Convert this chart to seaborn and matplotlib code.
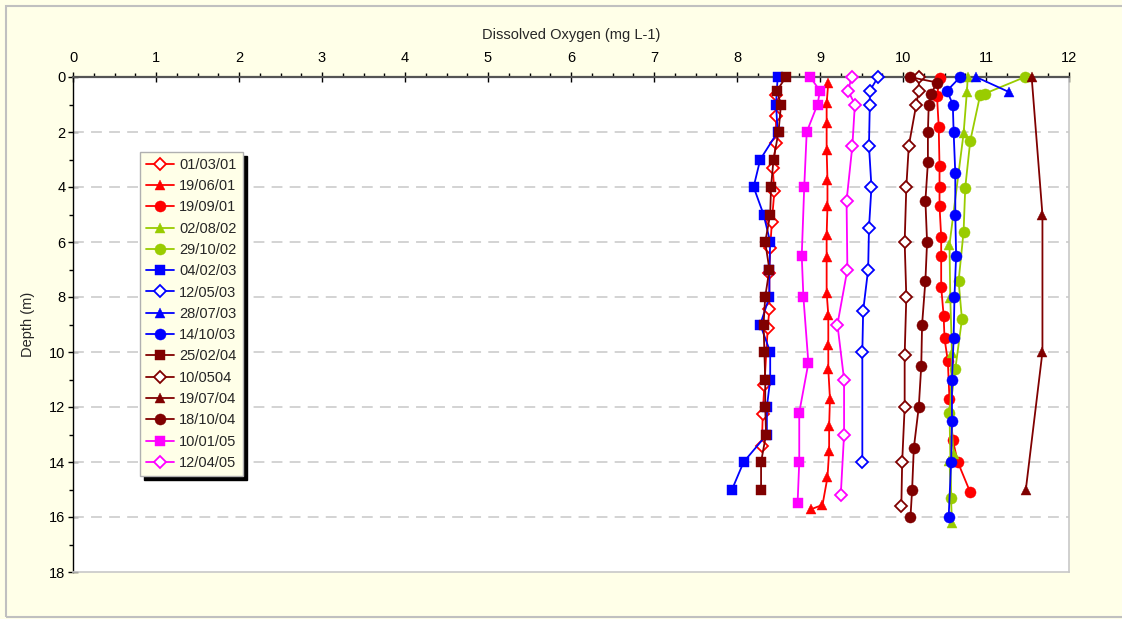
import numpy as np
import pandas as pd
import matplotlib

matplotlib.use("Agg")

import matplotlib.pyplot as plt
import seaborn as sns
from matplotlib.ticker import MultipleLocator
from matplotlib.patches import Rectangle

# ============================================================
# DATA  (depth in m, dissolved oxygen in mg L-1)
# ============================================================

d_010301 = [0.65, 1.42, 2.4, 3.3, 4.15, 5.27, 6.23, 7.14, 8.44, 9.14, 11.2, 12.25, 13.4]
o_010301 = [8.47, 8.47, 8.47, 8.43, 8.45, 8.42, 8.40, 8.39, 8.39, 8.37, 8.33, 8.31, 8.30]

d_190601 = [0.2, 0.96, 1.68, 2.65, 3.75, 4.7, 5.75, 6.53, 7.84, 8.65, 9.75, 10.63,
            11.7, 12.7, 13.6, 14.56, 15.56, 15.72]
o_190601 = [9.10, 9.08, 9.08, 9.08, 9.09, 9.09, 9.08, 9.08, 9.08, 9.10, 9.10, 9.10,
            9.12, 9.11, 9.11, 9.09, 9.03, 8.89]

d_190901 = [0.05, 0.7, 1.8, 3.24, 4.0, 4.7, 5.8, 6.5, 7.63, 8.7, 9.5, 10.33, 11.72,
            13.2, 14.0, 15.1]
o_190901 = [10.44, 10.41, 10.43, 10.44, 10.44, 10.44, 10.46, 10.46, 10.46, 10.49,
            10.50, 10.54, 10.56, 10.60, 10.66, 10.81]

d_020802 = [0.0, 0.53, 2.05, 6.1, 8.05, 10.05, 12.1, 13.7, 13.95, 16.2]
o_020802 = [10.78, 10.77, 10.73, 10.56, 10.57, 10.59, 10.57, 10.61, 10.56, 10.59]

d_291002 = [0.0, 0.6, 0.65, 2.33, 4.02, 5.62, 7.42, 8.81, 10.63, 12.2, 15.3]
o_291002 = [11.47, 10.99, 10.93, 10.81, 10.75, 10.73, 10.67, 10.71, 10.63, 10.56, 10.58]

d_040203 = [0, 1, 2, 3, 4, 5, 6, 7, 8, 9, 10, 11, 12, 13, 14, 15]
o_040203 = [8.49, 8.47, 8.49, 8.28, 8.20, 8.32, 8.40, 8.39, 8.39, 8.28, 8.40, 8.40,
            8.36, 8.36, 8.08, 7.94]

d_120503 = [0, 0.5, 1, 2.5, 4, 5.5, 7, 8.5, 10, 14]
o_120503 = [9.70, 9.60, 9.60, 9.59, 9.62, 9.59, 9.58, 9.52, 9.51, 9.51]

d_280703 = [0, 0.55]
o_280703 = [10.88, 11.28]

d_141003 = [0, 0.5, 1, 2, 3.5, 5, 6.5, 8, 9.5, 11, 12.5, 14, 16]
o_141003 = [10.69, 10.53, 10.60, 10.61, 10.63, 10.63, 10.64, 10.62, 10.61, 10.59,
            10.59, 10.58, 10.55]

d_250204 = [0, 0.5, 1, 2, 3, 4, 5, 6, 7, 8, 9, 10, 11, 12, 13, 14, 15]
o_250204 = [8.59, 8.48, 8.53, 8.50, 8.44, 8.41, 8.40, 8.34, 8.39, 8.34, 8.32, 8.33,
            8.34, 8.34, 8.35, 8.29, 8.29]

d_100504 = [0, 0.5, 1, 2.5, 4, 6, 8, 10.1, 12, 14, 15.6]
o_100504 = [10.19, 10.19, 10.16, 10.07, 10.04, 10.02, 10.04, 10.02, 10.02, 9.99, 9.98]

d_190704 = [0, 5, 10, 15]
o_190704 = [11.55, 11.68, 11.68, 11.48]

d_181004 = [0, 0.2, 0.6, 1, 2, 3.1, 4.5, 6, 7.4, 9, 10.5, 12, 13.5, 15, 16]
o_181004 = [10.08, 10.41, 10.34, 10.31, 10.30, 10.30, 10.27, 10.29, 10.27, 10.23,
            10.22, 10.19, 10.13, 10.11, 10.09]

d_100105 = [0, 0.5, 1, 2, 4, 6.5, 8, 10.4, 12.2, 14, 15.5]
o_100105 = [8.88, 9.00, 8.97, 8.84, 8.81, 8.78, 8.80, 8.86, 8.75, 8.75, 8.73]

d_120405 = [0, 0.5, 1, 2.5, 4.5, 7, 9, 11, 13, 15.2]
o_120405 = [9.38, 9.34, 9.42, 9.39, 9.32, 9.33, 9.21, 9.29, 9.29, 9.25]

# (label, oxygen, depth, colour, marker, open marker)
SERIES = [
    ("01/03/01", o_010301, d_010301, "#FF0000", "D", True),
    ("19/06/01", o_190601, d_190601, "#FF0000", "^", False),
    ("19/09/01", o_190901, d_190901, "#FF0000", "o", False),
    ("02/08/02", o_020802, d_020802, "#99CC00", "^", False),
    ("29/10/02", o_291002, d_291002, "#99CC00", "o", False),
    ("04/02/03", o_040203, d_040203, "#0000FF", "s", False),
    ("12/05/03", o_120503, d_120503, "#0000FF", "D", True),
    ("28/07/03", o_280703, d_280703, "#0000FF", "^", False),
    ("14/10/03", o_141003, d_141003, "#0000FF", "o", False),
    ("25/02/04", o_250204, d_250204, "#800000", "s", False),
    ("10/0504",  o_100504, d_100504, "#800000", "D", True),
    ("19/07/04", o_190704, d_190704, "#800000", "^", False),
    ("18/10/04", o_181004, d_181004, "#800000", "o", False),
    ("10/01/05", o_100105, d_100105, "#FF00FF", "s", False),
    ("12/04/05", o_120405, d_120405, "#FF00FF", "D", True),
]

MARKER_SIZE = {"D": 6.5, "s": 7.0, "^": 7.5, "o": 8.0}

# ============================================================
# PLOT
# ============================================================

sns.set_style("white")
plt.rcParams["font.family"] = ["Liberation Sans", "DejaVu Sans"]

BG = "#FFFFE8"
W, H = 1122, 619
fig = plt.figure(figsize=(W / 100, H / 100), dpi=100, facecolor=BG)
fig.patches.append(Rectangle((6 / W, 2 / H), 1.2, 1 - 7.5 / H,
                             transform=fig.transFigure, fill=False,
                             edgecolor="#C0C0C0", linewidth=1.5, zorder=0))

ax = fig.add_axes([73 / W, 1 - 572 / H, (1069 - 73) / W, (572 - 77) / H])
ax.set_facecolor("white")

for label, ox, dep, col, mk, hollow in SERIES:
    df = pd.DataFrame({"oxygen": ox, "depth": dep})
    sns.lineplot(data=df, x="oxygen", y="depth", sort=False, estimator=None,
                 ax=ax, color=col, linewidth=1.3, label=label,
                 marker=mk, markersize=MARKER_SIZE[mk],
                 markerfacecolor="white" if hollow else col,
                 markeredgecolor=col,
                 markeredgewidth=1.3 if hollow else 0.3,
                 clip_on=False, zorder=3)

ax.set_xlim(0, 12)
ax.set_ylim(18, 0)
ax.xaxis.tick_top()
ax.xaxis.set_label_position("top")
ax.xaxis.set_major_locator(MultipleLocator(1))
ax.xaxis.set_minor_locator(MultipleLocator(0.25))
ax.yaxis.set_major_locator(MultipleLocator(2))
ax.yaxis.set_minor_locator(MultipleLocator(1))

ax.tick_params(axis="both", which="major", direction="inout", length=7,
               width=1, labelsize=10.5, colors="black")
ax.tick_params(axis="x", which="major", pad=5)
ax.tick_params(axis="y", which="major", pad=2)
ax.tick_params(axis="both", which="minor", direction="out", length=3,
               width=1, colors="black")
ax.tick_params(axis="x", which="both", top=True, bottom=False)
ax.tick_params(axis="y", which="both", left=True, right=False)

ax.set_xlabel("Dissolved Oxygen (mg L-1)", fontsize=10.5, labelpad=9)
ax.set_ylabel("Depth (m)", fontsize=10.5, labelpad=10)

for y in range(2, 18, 2):
    ax.axhline(y, color="#D0D0D0", linewidth=1.3, linestyle=(0, (6, 4)),
               zorder=1)

ax.spines["top"].set_color("#555555")
ax.spines["top"].set_linewidth(1.6)
ax.spines["left"].set_color("black")
ax.spines["left"].set_linewidth(1.0)
for side in ("right", "bottom"):
    ax.spines[side].set_color("#C8C8C8")
    ax.spines[side].set_linewidth(1.2)

leg = ax.legend(loc="upper left", bbox_to_anchor=(140 / W, 1 - 152 / H),
                bbox_transform=fig.transFigure, fontsize=10.5,
                frameon=True, fancybox=False,
                shadow={"color": "black", "alpha": 1.0, "ox": 3, "oy": -3},
                handlelength=1.9, handletextpad=0.4, labelspacing=0.5,
                borderpad=0.4, borderaxespad=0)
leg.get_frame().set_facecolor(BG)
leg.get_frame().set_edgecolor("#B0B0B0")
leg.get_frame().set_linewidth(1.0)

plt.savefig("out.png", dpi=100, facecolor=BG)
plt.close()
